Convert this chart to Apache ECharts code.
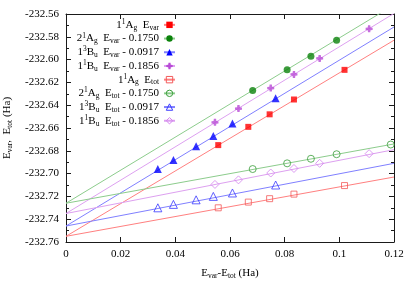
<!DOCTYPE html>
<html>
<head>
<meta charset="utf-8">
<script src="https://cdn.jsdelivr.net/npm/echarts@6/dist/echarts.min.js"></script>
<style>html,body{margin:0;padding:0;background:#fff}#c{width:415px;height:291px}</style>
</head>
<body>
<div id="c"></div>
<script>
// ---- data ----
const xTickLabels = ['0', '0.02', '0.04', '0.06', '0.08', '0.1', '0.12'];
const yTickLabels = ['-232.76', '-232.74', '-232.72', '-232.70', '-232.68', '-232.66', '-232.64', '-232.62', '-232.60', '-232.58', '-232.56'];

// x = Evar - Etot (Ha)
const xRed = [0.0557, 0.0667, 0.0745, 0.0834, 0.1019];
const evarRed = [-232.675, -232.659, -232.648, -232.635, -232.609];
const etotRed = [-232.730, -232.725, -232.722, -232.718, -232.7105];

const xGreen = [0.0683, 0.0809, 0.0896, 0.0990, 0.1188];
const evarGreen = [-232.627, -232.609, -232.597, -232.583, -232.555];
const etotGreen = [-232.696, -232.691, -232.687, -232.683, -232.6745];

const xBlue = [0.0336, 0.0393, 0.0476, 0.0539, 0.0609, 0.0767];
const evarBlue = [-232.696, -232.688, -232.676, -232.667, -232.656, -232.634];
const etotBlue = [-232.730, -232.727, -232.723, -232.720, -232.717, -232.710];

const xViolet = [0.0545, 0.0631, 0.0749, 0.0834, 0.0928, 0.1109];
const evarViolet = [-232.655, -232.643, -232.625, -232.613, -232.599, -232.573];
const etotViolet = [-232.7095, -232.7055, -232.6995, -232.6955, -232.691, -232.6825];

// fitted straight lines, values at x = 0 and x = 0.12
const fitX = [0, 0.12];
const fitRedVar = [-232.755, -232.583];
const fitRedTot = [-232.755, -232.703];
const fitGreenVar = [-232.726, -232.552];
const fitGreenTot = [-232.726, -232.674];
const fitBlueVar = [-232.746, -232.5714];
const fitBlueTot = [-232.746, -232.691];
const fitVioletVar = [-232.735, -232.5595];
const fitVioletTot = [-232.735, -232.679];

const legendNames = ['rVar', 'gVar', 'bVar', 'vVar', 'rTot', 'gTot', 'bTot', 'vTot'];
const legendLabels = [
  '{n|1}{sup|1}{n|A}{sub|g}{n|  E}{sub|var}',
  '{n|2}{sup|1}{n|A}{sub|g}{n|  E}{sub|var}{n| - 0.1750}',
  '{n|1}{sup|3}{n|B}{sub|u}{n|  E}{sub|var}{n| - 0.0917}',
  '{n|1}{sup|1}{n|B}{sub|u}{n|  E}{sub|var}{n| - 0.1856}',
  '{n|1}{sup|1}{n|A}{sub|g}{n|  E}{sub|tot}',
  '{n|2}{sup|1}{n|A}{sub|g}{n|  E}{sub|tot}{n| - 0.1750}',
  '{n|1}{sup|3}{n|B}{sub|u}{n|  E}{sub|tot}{n| - 0.0917}',
  '{n|1}{sup|1}{n|B}{sub|u}{n|  E}{sub|tot}{n| - 0.1856}'
];

// ---- styling ----
const FONT = 'Liberation Serif';
const rich = {
  n: {fontFamily: FONT, fontSize: 11, color: '#000', lineHeight: 13.7},
  sup: {fontFamily: FONT, fontSize: 7.5, color: '#000', lineHeight: 8, verticalAlign: 'top'},
  sub: {fontFamily: FONT, fontSize: 7.5, color: '#000', lineHeight: 7, verticalAlign: 'bottom'}
};
const plusPath = 'path://M3.4,0H6.6L7,3L10,3.4V6.6L7,7L6.6,10H3.4L3,7L0,6.6V3.4L3,3Z';

const defs = [
  {name: 'rVar', x: xRed, y: evarRed, fit: fitRedVar, sym: 'rect', size: 6, fill: '#ff0000', stroke: null, line: '#ff8080'},
  {name: 'gVar', x: xGreen, y: evarGreen, fit: fitGreenVar, sym: 'circle', size: 7, fill: '#0b820b', stroke: null, line: '#8ccc8c'},
  {name: 'bVar', x: xBlue, y: evarBlue, fit: fitBlueVar, sym: 'triangle', size: 8, fill: '#0000ff', stroke: null, line: '#8080ff'},
  {name: 'vVar', x: xViolet, y: evarViolet, fit: fitVioletVar, sym: plusPath, size: 7, fill: '#b84ad6', stroke: null, line: '#dda0f0'},
  {name: 'rTot', x: xRed, y: etotRed, fit: fitRedTot, sym: 'rect', size: 6, fill: 'rgba(0,0,0,0)', stroke: '#f25a5a', line: '#ff8080'},
  {name: 'gTot', x: xGreen, y: etotGreen, fit: fitGreenTot, sym: 'circle', size: 7, fill: 'rgba(0,0,0,0)', stroke: '#3a9e3a', line: '#8ccc8c'},
  {name: 'bTot', x: xBlue, y: etotBlue, fit: fitBlueTot, sym: 'triangle', size: 8, fill: 'rgba(0,0,0,0)', stroke: '#3a3aff', line: '#8080ff'},
  {name: 'vTot', x: xViolet, y: etotViolet, fit: fitVioletTot, sym: 'diamond', size: 8, fill: 'rgba(0,0,0,0)', stroke: '#d383ef', line: '#dda0f0'}
];

const series = [];
defs.forEach(d => {
  const itemStyle = d.stroke ? {color: d.fill, borderColor: d.stroke, borderWidth: 1} : {color: d.fill};
  series.push({
    name: d.name, type: 'line', xAxisIndex: 0, yAxisIndex: 0,
    data: fitX.map((x, i) => [x, d.fit[i]]),
    symbol: d.sym, symbolSize: d.size, showSymbol: false,
    itemStyle: itemStyle,
    lineStyle: {color: d.line, width: 1},
    clip: true, silent: true, animation: false, z: 2
  });
  series.push({
    name: d.name + '_pts', type: 'scatter', xAxisIndex: 0, yAxisIndex: 0,
    data: d.x.map((x, i) => [x, d.y[i]]),
    symbol: d.sym, symbolSize: d.size,
    itemStyle: itemStyle,
    clip: true, silent: true, animation: false, z: 3
  });
});

const legendData = legendNames.map((n, i) => {
  const d = defs[i];
  const o = {name: n};
  if (d.stroke) o.itemStyle = {color: 'rgba(0,0,0,0)', borderColor: d.stroke, borderWidth: 1};
  return o;
});

const axisCommon = {
  axisLine: {show: true, onZero: false, lineStyle: {color: '#1a1a1a', width: 1}},
  splitLine: {show: false}
};

const chart = echarts.init(document.getElementById('c'), null, {renderer: 'canvas'});
chart.setOption({
  animation: false,
  backgroundColor: '#fff',
  grid: {left: 66, right: 21, top: 14, bottom: 49, containLabel: false, outerBoundsMode: 'none'},
  legend: {
    data: legendData,
    orient: 'vertical', align: 'right',
    right: 239, top: 18, padding: 0,
    itemWidth: 11, itemHeight: 8, itemGap: 0,
    selectedMode: false,
    formatter: name => legendLabels[legendNames.indexOf(name)],
    textStyle: {fontFamily: FONT, fontSize: 11, color: '#000', rich: rich}
  },
  xAxis: [
    Object.assign({
      type: 'value', position: 'bottom', min: 0, max: 0.12, interval: 0.02,
      axisTick: {show: true, inside: true, length: 5, lineStyle: {color: '#1a1a1a'}},
      axisLabel: {margin: 7, fontFamily: FONT, fontSize: 11, color: '#000',
        formatter: (v) => xTickLabels[Math.round(v / 0.02)]},
      name: '{n|E}{sub|var}{n|-E}{sub|tot}{n| (Ha)}',
      nameLocation: 'middle', nameGap: 24,
      nameTextStyle: {rich: rich}
    }, axisCommon),
    Object.assign({
      type: 'value', position: 'top', min: 0, max: 0.12, interval: 0.02,
      axisTick: {show: true, inside: true, length: 5, lineStyle: {color: '#1a1a1a'}},
      axisLabel: {show: false}
    }, axisCommon)
  ],
  yAxis: [
    Object.assign({
      type: 'value', position: 'left', min: -232.76, max: -232.56, interval: 0.02,
      axisTick: {show: true, inside: true, length: 5, lineStyle: {color: '#1a1a1a'}},
      minorTick: {show: true, splitNumber: 2, length: 3, lineStyle: {color: '#1a1a1a'}},
      axisLabel: {margin: 7, fontFamily: FONT, fontSize: 11, color: '#000',
        formatter: (v) => yTickLabels[Math.round((v + 232.76) / 0.02)]},
      name: '{n|E}{sub|var}{n|,  E}{sub|tot}{n| (Ha)}',
      nameLocation: 'middle', nameGap: 50, nameRotate: 90,
      nameTextStyle: {rich: rich}
    }, axisCommon),
    Object.assign({
      type: 'value', position: 'right', min: -232.76, max: -232.56, interval: 0.02,
      axisTick: {show: true, inside: true, length: 5, lineStyle: {color: '#1a1a1a'}},
      minorTick: {show: true, splitNumber: 2, length: 3, lineStyle: {color: '#1a1a1a'}},
      axisLabel: {show: false}
    }, axisCommon)
  ],
  series: series
});
</script>
</body>
</html>
